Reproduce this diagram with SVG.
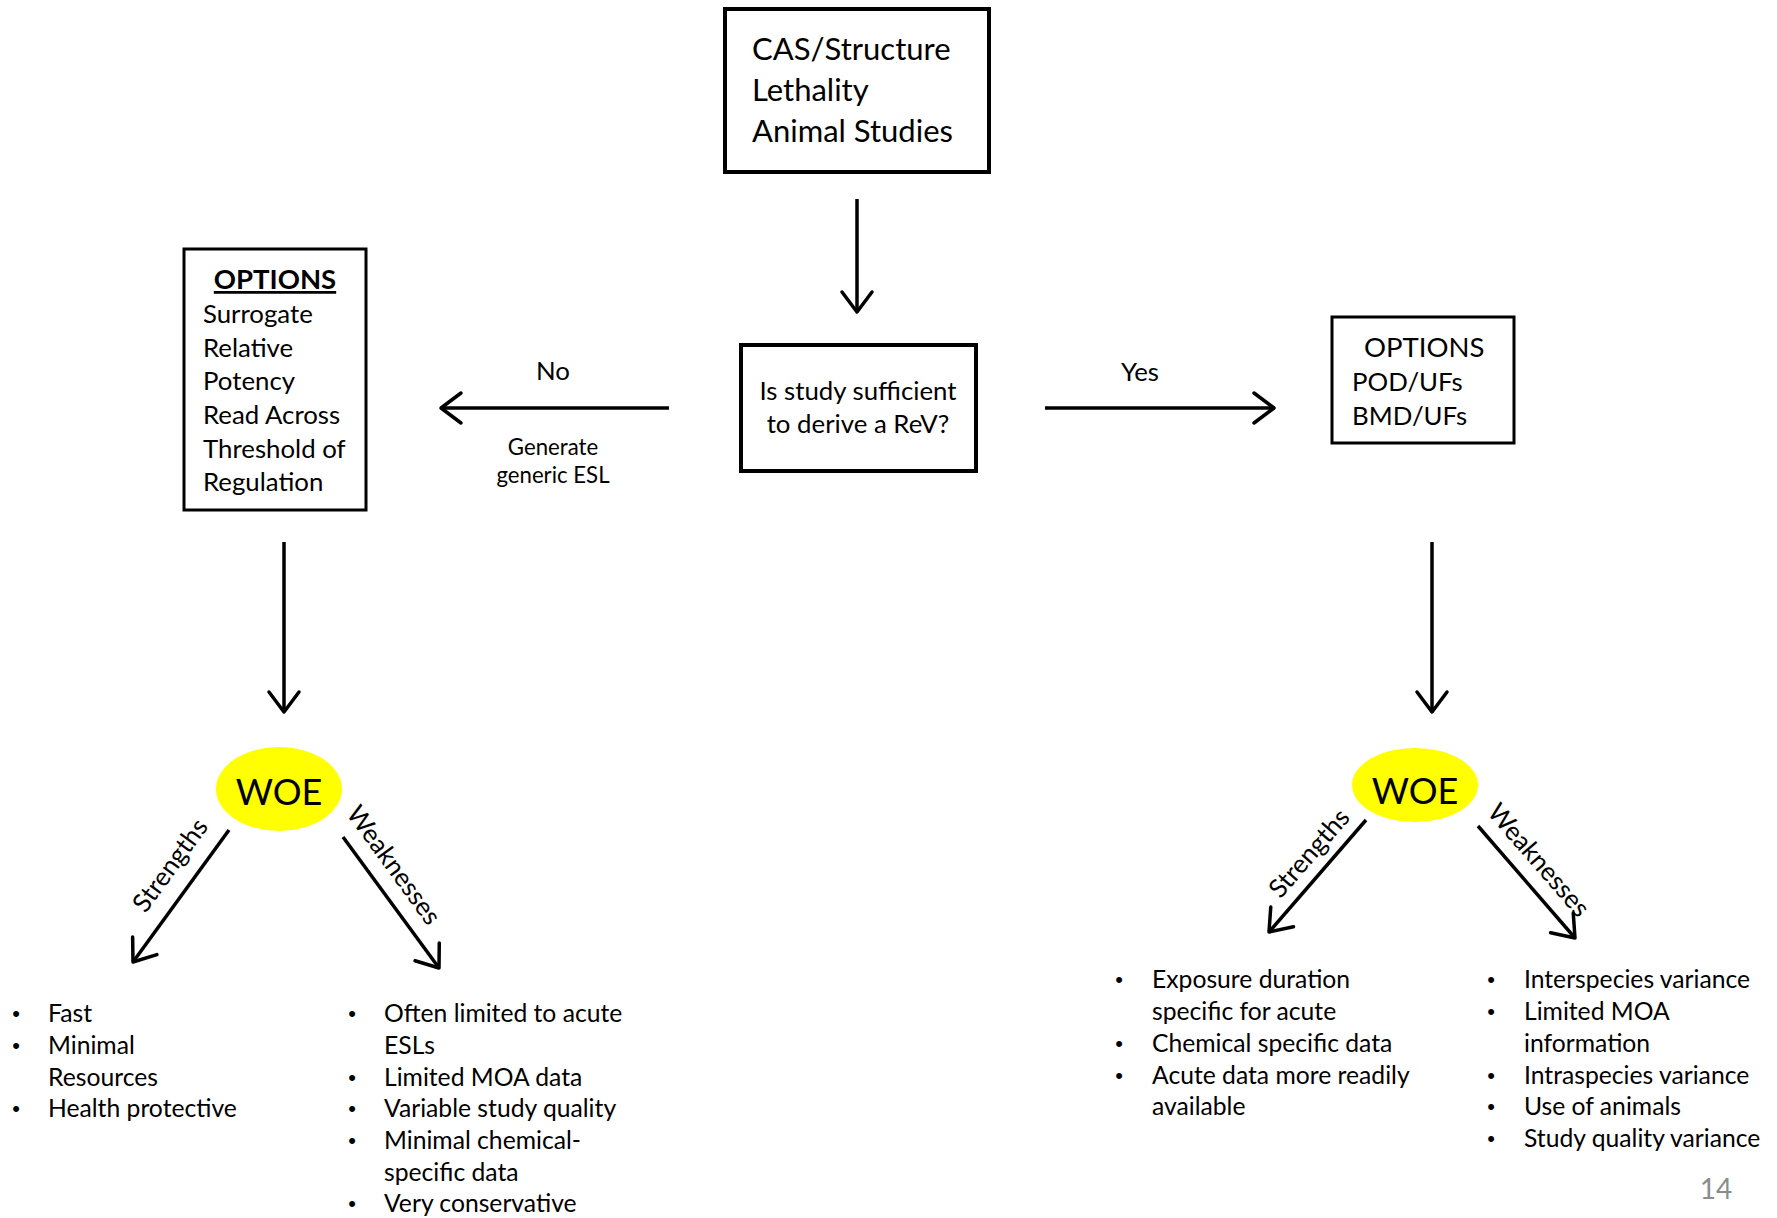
<svg xmlns="http://www.w3.org/2000/svg" width="1777" height="1218" viewBox="0 0 1777 1218">
<style>
text{font-family:Lato,"Carlito","Liberation Sans",sans-serif;fill:#000}
.box{fill:#fff;stroke:#000;stroke-width:4}
.box3{fill:#fff;stroke:#000;stroke-width:3}
.big{font-size:31px}
.mid{font-size:25.8px}
.sm{font-size:22.2px}
.lst{font-size:24.7px}
.bul{font-family:"Liberation Sans",sans-serif;font-size:22px}
.woe{font-size:36px}
.arr{fill:none;stroke:#000;stroke-width:3.5;marker-end:url(#chev)}
</style>
<defs>
<marker id="chev" markerUnits="userSpaceOnUse" markerWidth="30" markerHeight="36" viewBox="-24 -18 30 36" refX="0" refY="0" orient="auto" overflow="visible">
<path d="M-20,-15 L0,0 L-20,15" fill="none" stroke="#000" stroke-width="3.5" stroke-linecap="round" stroke-linejoin="round"/>
</marker>
</defs>
<rect width="1777" height="1218" fill="#fff"/>

<g id="connectors">
<line class="arr" x1="857" y1="199" x2="857" y2="312"/>
<line class="arr" x1="669" y1="408" x2="441" y2="408"/>
<line class="arr" x1="1045" y1="408" x2="1274" y2="408"/>
<line class="arr" x1="284" y1="542" x2="284" y2="712"/>
<line class="arr" x1="1432" y1="542" x2="1432" y2="712"/>
<line class="arr" x1="229" y1="830" x2="133" y2="962"/>
<line class="arr" x1="343" y1="837" x2="439" y2="968"/>
<line class="arr" x1="1366" y1="820" x2="1269" y2="932"/>
<line class="arr" x1="1478" y1="826" x2="1575" y2="938"/>
<text class="mid" x="553" y="380" text-anchor="middle">No</text>
<text class="sm" x="553" y="455" text-anchor="middle">Generate</text>
<text class="sm" x="553" y="483" text-anchor="middle">generic ESL</text>
<text class="mid" x="1140" y="381" text-anchor="middle">Yes</text>
<text class="mid" transform="translate(170,865) rotate(-54)" y="9" text-anchor="middle">Strengths</text>
<text class="mid" transform="translate(394,865) rotate(54)" y="9" text-anchor="middle">Weaknesses</text>
<text class="mid" transform="translate(1309,853) rotate(-49)" y="9" text-anchor="middle">Strengths</text>
<text class="mid" transform="translate(1539,860) rotate(49)" y="9" text-anchor="middle">Weaknesses</text>
</g>

<g id="node-cas">
<rect class="box" x="725" y="9" width="264" height="163"/>
<text class="big" x="752" y="60">CAS/Structure</text>
<text class="big" x="752" y="101">Lethality</text>
<text class="big" x="752" y="142">Animal Studies</text>
</g>

<g id="node-question">
<rect class="box" x="741" y="345" width="235" height="126"/>
<text class="mid" x="858" y="400" text-anchor="middle">Is study sufficient</text>
<text class="mid" x="858" y="433" text-anchor="middle">to derive a ReV?</text>
</g>

<g id="node-options-left">
<rect class="box3" x="184" y="249" width="182" height="261"/>
<text x="275" y="289" text-anchor="middle" font-size="27.5" font-weight="bold" text-decoration="underline">OPTIONS</text>
<text class="mid" x="203" y="323">Surrogate</text>
<text class="mid" x="203" y="357">Relative</text>
<text class="mid" x="203" y="390">Potency</text>
<text class="mid" x="203" y="424">Read Across</text>
<text class="mid" x="203" y="458">Threshold of</text>
<text class="mid" x="203" y="491">Regulation</text>
</g>

<g id="node-options-right">
<rect class="box3" x="1332" y="317" width="182" height="126"/>
<text x="1364" y="357" font-size="27.5">OPTIONS</text>
<text class="mid" x="1352" y="391">POD/UFs</text>
<text class="mid" x="1352" y="425">BMD/UFs</text>
</g>

<g id="node-woe-left">
<ellipse cx="279" cy="789" rx="63" ry="42" fill="#ffff00"/>
<text class="woe" x="279" y="805" text-anchor="middle">WOE</text>
</g>

<g id="node-woe-right">
<ellipse cx="1415" cy="785" rx="63" ry="37" fill="#ffff00"/>
<text class="woe" x="1415" y="804" text-anchor="middle">WOE</text>
</g>

<g id="list-left-strengths">
<text class="bul" x="16" y="1021" text-anchor="middle">•</text>
<text class="bul" x="16" y="1053" text-anchor="middle">•</text>
<text class="bul" x="16" y="1116" text-anchor="middle">•</text>
<text class="lst" x="48" y="1022">Fast</text>
<text class="lst" x="48" y="1054">Minimal</text>
<text class="lst" x="48" y="1086">Resources</text>
<text class="lst" x="48" y="1117">Health protective</text>
</g>

<g id="list-left-weaknesses">
<text class="bul" x="352" y="1021" text-anchor="middle">•</text>
<text class="bul" x="352" y="1085" text-anchor="middle">•</text>
<text class="bul" x="352" y="1116" text-anchor="middle">•</text>
<text class="bul" x="352" y="1148" text-anchor="middle">•</text>
<text class="bul" x="352" y="1211" text-anchor="middle">•</text>
<text class="lst" x="384" y="1022">Often limited to acute</text>
<text class="lst" x="384" y="1054">ESLs</text>
<text class="lst" x="384" y="1086">Limited MOA data</text>
<text class="lst" x="384" y="1117">Variable study quality</text>
<text class="lst" x="384" y="1149">Minimal chemical-</text>
<text class="lst" x="384" y="1181">specific data</text>
<text class="lst" x="384" y="1212">Very conservative</text>
</g>

<g id="list-right-strengths">
<text class="bul" x="1119" y="987" text-anchor="middle">•</text>
<text class="bul" x="1119" y="1051" text-anchor="middle">•</text>
<text class="bul" x="1119" y="1083" text-anchor="middle">•</text>
<text class="lst" x="1152" y="988">Exposure duration</text>
<text class="lst" x="1152" y="1020">specific for acute</text>
<text class="lst" x="1152" y="1052">Chemical specific data</text>
<text class="lst" x="1152" y="1084">Acute data more readily</text>
<text class="lst" x="1152" y="1115">available</text>
</g>

<g id="list-right-weaknesses">
<text class="bul" x="1491" y="987" text-anchor="middle">•</text>
<text class="bul" x="1491" y="1019" text-anchor="middle">•</text>
<text class="bul" x="1491" y="1083" text-anchor="middle">•</text>
<text class="bul" x="1491" y="1114" text-anchor="middle">•</text>
<text class="bul" x="1491" y="1146" text-anchor="middle">•</text>
<text class="lst" x="1524" y="988">Interspecies variance</text>
<text class="lst" x="1524" y="1020">Limited MOA</text>
<text class="lst" x="1524" y="1052">information</text>
<text class="lst" x="1524" y="1084">Intraspecies variance</text>
<text class="lst" x="1524" y="1115">Use of animals</text>
<text class="lst" x="1524" y="1147">Study quality variance</text>
</g>

<text x="1716" y="1199" text-anchor="middle" font-size="28" style="fill:#8c8c8c">14</text>
</svg>
